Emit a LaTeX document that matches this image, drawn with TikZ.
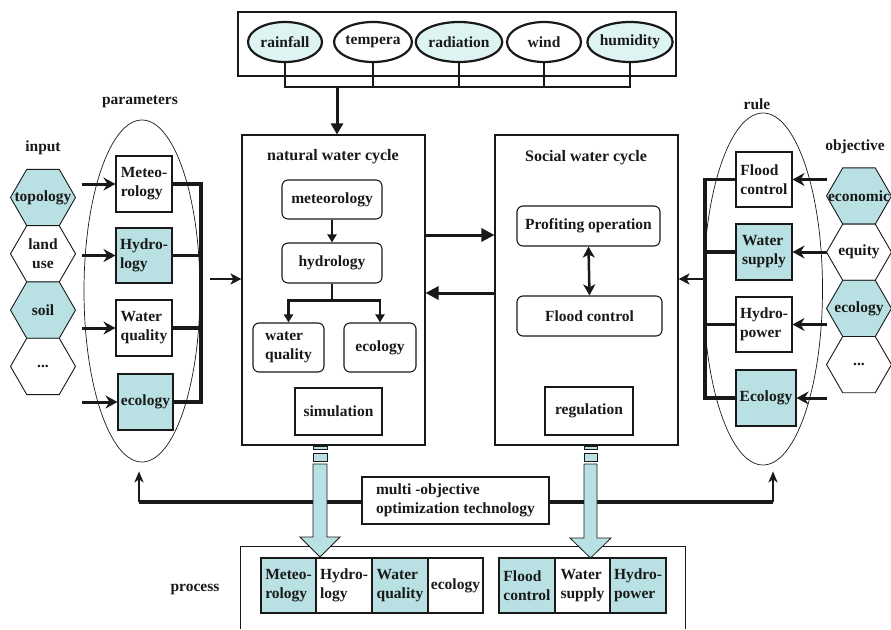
\documentclass[tikz,border=0pt]{standalone}
\usepackage{fontspec}
\setmainfont{Liberation Serif}
\usetikzlibrary{arrows.meta,shapes.geometric}
\definecolor{tealfill}{RGB}{185,224,227}
\definecolor{ellfill}{RGB}{221,244,243}
\definecolor{ink}{RGB}{25,25,25}
\begin{document}
\begin{tikzpicture}[x=1pt,y=-1pt,
  lbl/.style={font=\fontsize{15.5}{19}\selectfont\bfseries, text=ink, inner sep=0pt},
  box/.style={lbl, draw=ink, line width=1.1pt, align=left},
  rbox/.style={box, rounded corners=6pt},
  hex/.style={regular polygon, regular polygon sides=6, minimum size=65pt,
              inner sep=0pt, draw=ink, line width=0.9pt},
  bigell/.style={ellipse, draw=ink, line width=0.7pt, inner sep=0pt},
  topell/.style={lbl, ellipse, draw=ink, line width=2.2pt, minimum width=74pt, minimum height=40pt},
  bus/.style={draw=ink, line width=3.8pt},
  thinbus/.style={draw=ink, line width=2.5pt},
  inarr/.style={draw=ink, line width=3pt, -{Stealth[length=12pt,width=13pt,inset=4pt]}},
  tarr/.style={draw=ink, line width=3pt, -{Triangle[length=13pt,width=13pt]}},
  smarr/.style={draw=ink, line width=2.2pt, -{Triangle[length=8pt,width=9pt]}},
  outarr/.style={draw=ink, line width=2.3pt, -{Stealth[length=11pt,width=11pt,inset=3pt]}},
  uparr/.style={draw=ink, line width=2pt, -{Stealth[length=11pt,width=9pt,inset=3pt]}},
  blockarr/.style={fill=tealfill, draw=ink, line width=0.8pt},
]
\useasboundingbox (0,0) rectangle (891,629);

% ---------- meteorological drivers ----------
\node[draw=ink, line width=1.1pt, minimum width=438pt, minimum height=64pt, inner sep=0pt] (topbox) at (457,44) {};
\node[topell, fill=ellfill] (e1) at (285,42) {rainfall};
\node[topell, fill=white]   (e2) at (373,42) {tempera};
\node[topell, fill=ellfill] (e3) at (459,42) {radiation};
\node[topell, fill=white]   (e4) at (544,42) {wind};
\node[topell, fill=ellfill] (e5) at (630,42) {humidity};
\coordinate (busy) at (0,87);
\draw[thinbus] (e1.south) -- (e1.south |- busy) -- (e5.south |- busy) -- (e5.south);
\foreach \e in {e2,e3,e4} \draw[thinbus] (\e.south) -- (\e.south |- busy);
\coordinate (topjoin) at (337,87);

% ---------- natural water cycle ----------
\node[draw=ink, line width=1.1pt, minimum width=183pt, minimum height=310pt, inner sep=0pt] (nat) at (333.5,290) {};
\node[lbl, font=\fontsize{16}{19}\selectfont\bfseries] (nattitle) at (333,157) {natural water cycle};
\node[rbox, minimum width=100pt, minimum height=39pt] (nmet) at (332,199.5) {meteorology};
\node[rbox, minimum width=100pt, minimum height=40pt] (nhyd) at (332,263) {hydrology};
\node[rbox, minimum width=71pt, minimum height=49pt] (nwq) at (288.5,347.5) {water\\quality};
\node[rbox, minimum width=72pt, minimum height=49pt] (neco) at (380,347.5) {ecology};
\node[box, minimum width=87pt, minimum height=47pt] (nsim) at (338.5,411.5) {simulation};
\draw[smarr] (nmet) -- (nhyd);
\draw[draw=ink, line width=2.2pt] (nhyd.south) -- ++(0,17) coordinate (br);
\draw[smarr] (br) -| (nwq.north);
\draw[smarr] (br) -| (neco.north);
\draw[tarr, -{Triangle[length=11pt,width=12pt]}] (topjoin) -- (topjoin |- nat.north);

% ---------- social water cycle ----------
\node[draw=ink, line width=1.1pt, minimum width=183pt, minimum height=310pt, inner sep=0pt] (soc) at (586.5,290) {};
\node[lbl, font=\fontsize{16}{19}\selectfont\bfseries] (soctitle) at (586,158) {Social water cycle};
\node[rbox, minimum width=143pt, minimum height=40pt] (sprof) at (588.5,226) {Profiting operation};
\node[rbox, minimum width=145pt, minimum height=40pt] (sfc) at (589.5,316) {Flood control};
\node[box, minimum width=88pt, minimum height=48pt] (sreg) at (589,411) {regulation};
\draw[draw=ink, line width=2.5pt, {Stealth[length=11pt,width=12pt,inset=3pt]}-{Stealth[length=11pt,width=12pt,inset=3pt]}] (sprof.south) -- (sfc.north);

\coordinate (ya) at (0,235);
\coordinate (yb) at (0,293);
\draw[tarr] (nat.east |- ya) -- (soc.west |- ya);
\draw[tarr] (soc.west |- yb) -- (nat.east |- yb);

% ---------- inputs and parameters ----------
\node[lbl] (tparam) at (140,102) {parameters};
\node[lbl] (tinput) at (43,148) {input};
\node[bigell, minimum width=116pt, minimum height=342pt] (lell) at (142,291) {};
\node[hex, fill=tealfill, label={[lbl]center:topology}] (h1) at (43,197.5) {};
\node[hex, fill=white, label={[lbl, align=center]center:land\\use}] (h2) at (43,253.8) {};
\node[hex, fill=tealfill, label={[lbl]center:soil}] (h3) at (43,310.1) {};
\node[hex, fill=white, label={[lbl]center:...}] (h4) at (43,366.4) {};

\node[box, fill=white, minimum width=56pt, minimum height=56pt] (pm1) at (144,184) {Meteo-\\rology};
\node[box, fill=tealfill, minimum width=56pt, minimum height=55pt] (pm2) at (144,255.5) {Hydro-\\logy};
\node[box, fill=white, minimum width=56pt, minimum height=56pt] (pm3) at (144,328) {Water\\quality};
\node[box, fill=tealfill, minimum width=55pt, minimum height=56pt] (pm4) at (145.5,402) {ecology};

\coordinate (inx) at (82,0);
\foreach \p in {pm1,pm2,pm3,pm4} \draw[inarr] (\p.west -| inx) -- (\p.west);
\coordinate (lbus) at (201,0);
\draw[bus] (pm1.east) -- (pm1.east -| lbus) -- (pm4.east -| lbus) -- (pm4.east);
\draw[bus] (pm2.east) -- (pm2.east -| lbus);
\draw[bus] (pm3.east) -- (pm3.east -| lbus);
\coordinate (lout) at (210,279);
\draw[outarr] (lout) -- (lout -| nat.west);

% ---------- objectives and rules ----------
\node[lbl] (trule) at (757,104) {rule};
\node[lbl] (tobj) at (855,147) {objective};
\node[bigell, minimum width=119pt, minimum height=352pt] (rell) at (763,289) {};
\node[hex, fill=tealfill, label={[lbl]center:economic}] (o1) at (859,196) {};
\node[hex, fill=white, label={[lbl]center:equity}] (o2) at (859,252.2) {};
\node[hex, fill=tealfill, label={[lbl]center:ecology}] (o3) at (859,308.4) {};
\node[hex, fill=white, label={[lbl]center:...}] (o4) at (859,364.6) {};

\node[box, fill=white, minimum width=56pt, minimum height=55pt] (rb1) at (764,179.5) {Flood\\control};
\node[box, fill=tealfill, minimum width=56pt, minimum height=56pt] (rb2) at (764,252) {Water\\supply};
\node[box, fill=white, minimum width=56pt, minimum height=55pt] (rb3) at (764,324.5) {Hydro-\\power};
\node[box, fill=tealfill, minimum width=60pt, minimum height=56pt] (rb4) at (766,398) {Ecology};

\coordinate (objx) at (827,0);
\foreach \r in {rb1,rb2,rb3,rb4} \draw[inarr] (\r.east -| objx) -- (\r.east);
\coordinate (rbus) at (705,0);
\draw[bus] (rb1.west) -- (rb1.west -| rbus) -- (rb4.west -| rbus) -- (rb4.west);
\draw[bus] (rb2.west) -- (rb2.west -| rbus);
\draw[bus] (rb3.west) -- (rb3.west -| rbus);
\coordinate (rout) at (705,279);
\draw[outarr, line width=2pt] (rout) -- (rout -| soc.east);

% ---------- optimisation feedback ----------
\node[box, fill=white, minimum width=187pt, minimum height=47pt, font=\fontsize{15.5}{19}\selectfont\bfseries] (multi) at (455.5,500.5) {multi -objective\\optimization technology};
\coordinate (lup) at (139,502);
\coordinate (rup) at (773,502);
\draw[bus] (multi.west |- lup) -- (lup);
\draw[bus] (multi.east |- rup) -- (rup);
\draw[uparr, shorten >=9pt] (lup) -- (lup |- lell.south);
\draw[uparr, shorten >=6pt] (rup) -- (rup |- rell.south);

% ---------- process strip ----------
\node[minimum width=444pt, minimum height=82pt, inner sep=0pt] (proc) at (463,588) {};
\draw[draw=ink, line width=1.1pt] (proc.south west) |- (proc.north east) -- (proc.south east);
\node[lbl] (tproc) at (195,589) {process};
\node[box, fill=tealfill, minimum width=55pt, minimum height=55pt] (c1) at (288.5,585.5) {Meteo-\\rology};
\node[box, fill=white,    minimum width=56pt, minimum height=55pt] (c2) at (344,585.5) {Hydro-\\logy};
\node[box, fill=tealfill, minimum width=56pt, minimum height=55pt] (c3) at (400,585.5) {Water\\quality};
\node[box, fill=white,    minimum width=55pt, minimum height=55pt] (c4) at (455.5,585.5) {ecology};
\node[box, fill=tealfill, minimum width=56pt, minimum height=55pt] (d1) at (527,585.5) {Flood\\control};
\node[box, fill=white,    minimum width=55pt, minimum height=55pt] (d2) at (582.5,585.5) {Water\\supply};
\node[box, fill=tealfill, minimum width=56pt, minimum height=55pt] (d3) at (638,585.5) {Hydro-\\power};

% ---------- block arrows from the two cycles down to the process strip ----------
\draw[blockarr] (313,446) rectangle (327,449);
\draw[blockarr] (313,453) rectangle (327,461);
\draw[blockarr] (313,464) -- (313,537) -- (300,537) -- (320,557) -- (340,537) -- (327,537) -- (327,464) -- cycle;
\draw[blockarr] (584,446) rectangle (597,449);
\draw[blockarr] (584,453) rectangle (597,461);
\draw[blockarr] (584,464) -- (584,538) -- (570,538) -- (590.5,558) -- (611,538) -- (597,538) -- (597,464) -- cycle;
\end{tikzpicture}
\end{document}
